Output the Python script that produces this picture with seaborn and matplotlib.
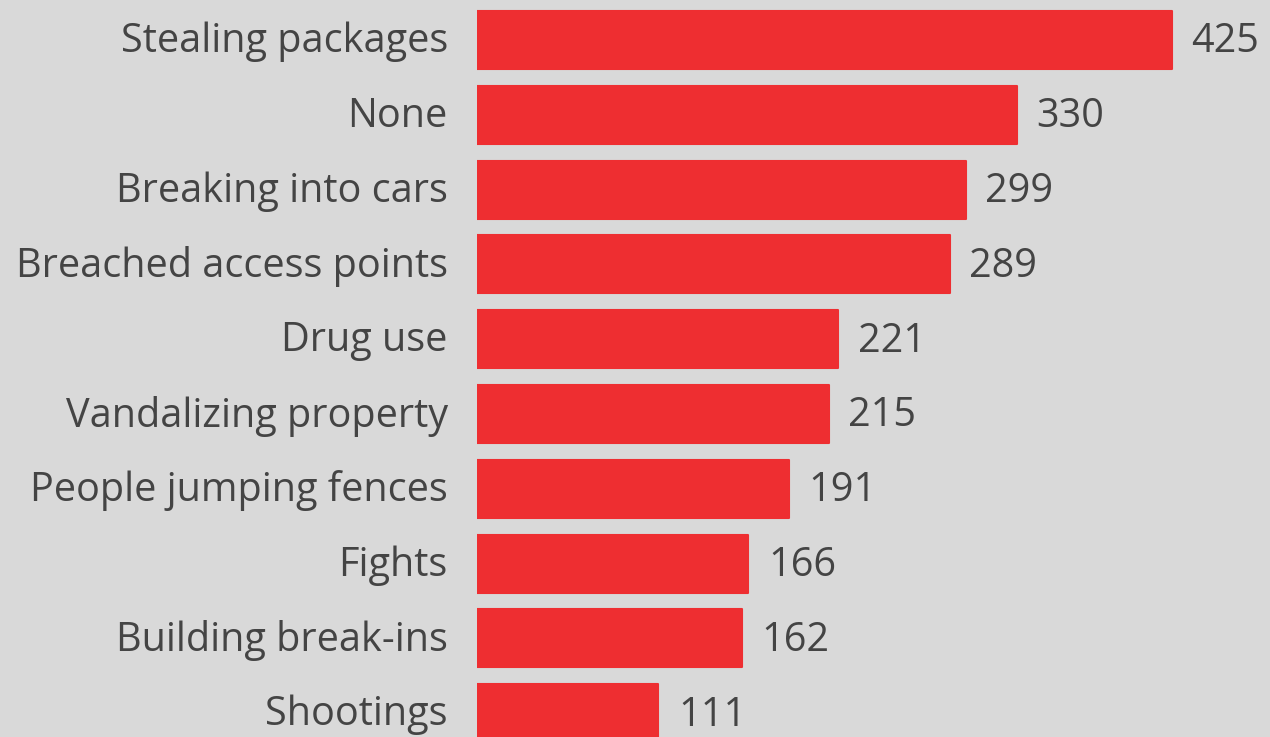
import matplotlib
matplotlib.use("Agg")
import matplotlib.pyplot as plt
import matplotlib.transforms as mtransforms
import seaborn as sns
import pandas as pd

categories = ["Stealing packages", "None", "Breaking into cars", "Breached access points",
              "Drug use", "Vandalizing property", "People jumping fences", "Fights",
              "Building break-ins", "Shootings"]
counts = [425, 330, 299, 289, 221, 215, 191, 166, 162, 111]

BG = "#d9d9d9"
BAR = "#ee2e31"
TXT = "#444444"
FS = 28.5

sns.set_theme(style="white")
plt.rcParams['font.family'] = ['Open Sans', 'DejaVu Sans']

df = pd.DataFrame({"category": categories, "count": counts})

fig = plt.figure(figsize=(12.7, 7.37), dpi=100)
fig.patch.set_facecolor(BG)
ax = fig.add_axes([477/1270, 0, 793/1270, 1])
ax.set_facecolor(BG)

sns.barplot(data=df, x="count", y="category", orient="h", color=BAR, width=0.775,
            saturation=1, ax=ax, edgecolor=BAR, linewidth=1.5)
for p in ax.patches:
    p.set_joinstyle("round")

ax.set_xlim(0, 485)
ax.set_ylim(9.318, -0.535)
ax.set_xlabel("")
ax.set_ylabel("")
ax.set_xticks([])
ax.tick_params(axis="y", length=0, pad=21, labelsize=FS, labelcolor=TXT)
shift = mtransforms.ScaledTranslation(0, 3/100, fig.dpi_scale_trans)
for lbl in ax.get_yticklabels():
    lbl.set_transform(lbl.get_transform() + shift)
for s in ax.spines.values():
    s.set_visible(False)

for p, v in zip(ax.patches, counts):
    ax.annotate(str(v), xy=(p.get_x() + p.get_width(), p.get_y() + p.get_height() / 2),
                xytext=(14, -1.5), textcoords="offset points", ha="left", va="center",
                fontsize=FS, color=TXT)

fig.savefig("out.png", dpi=100, facecolor=BG)
